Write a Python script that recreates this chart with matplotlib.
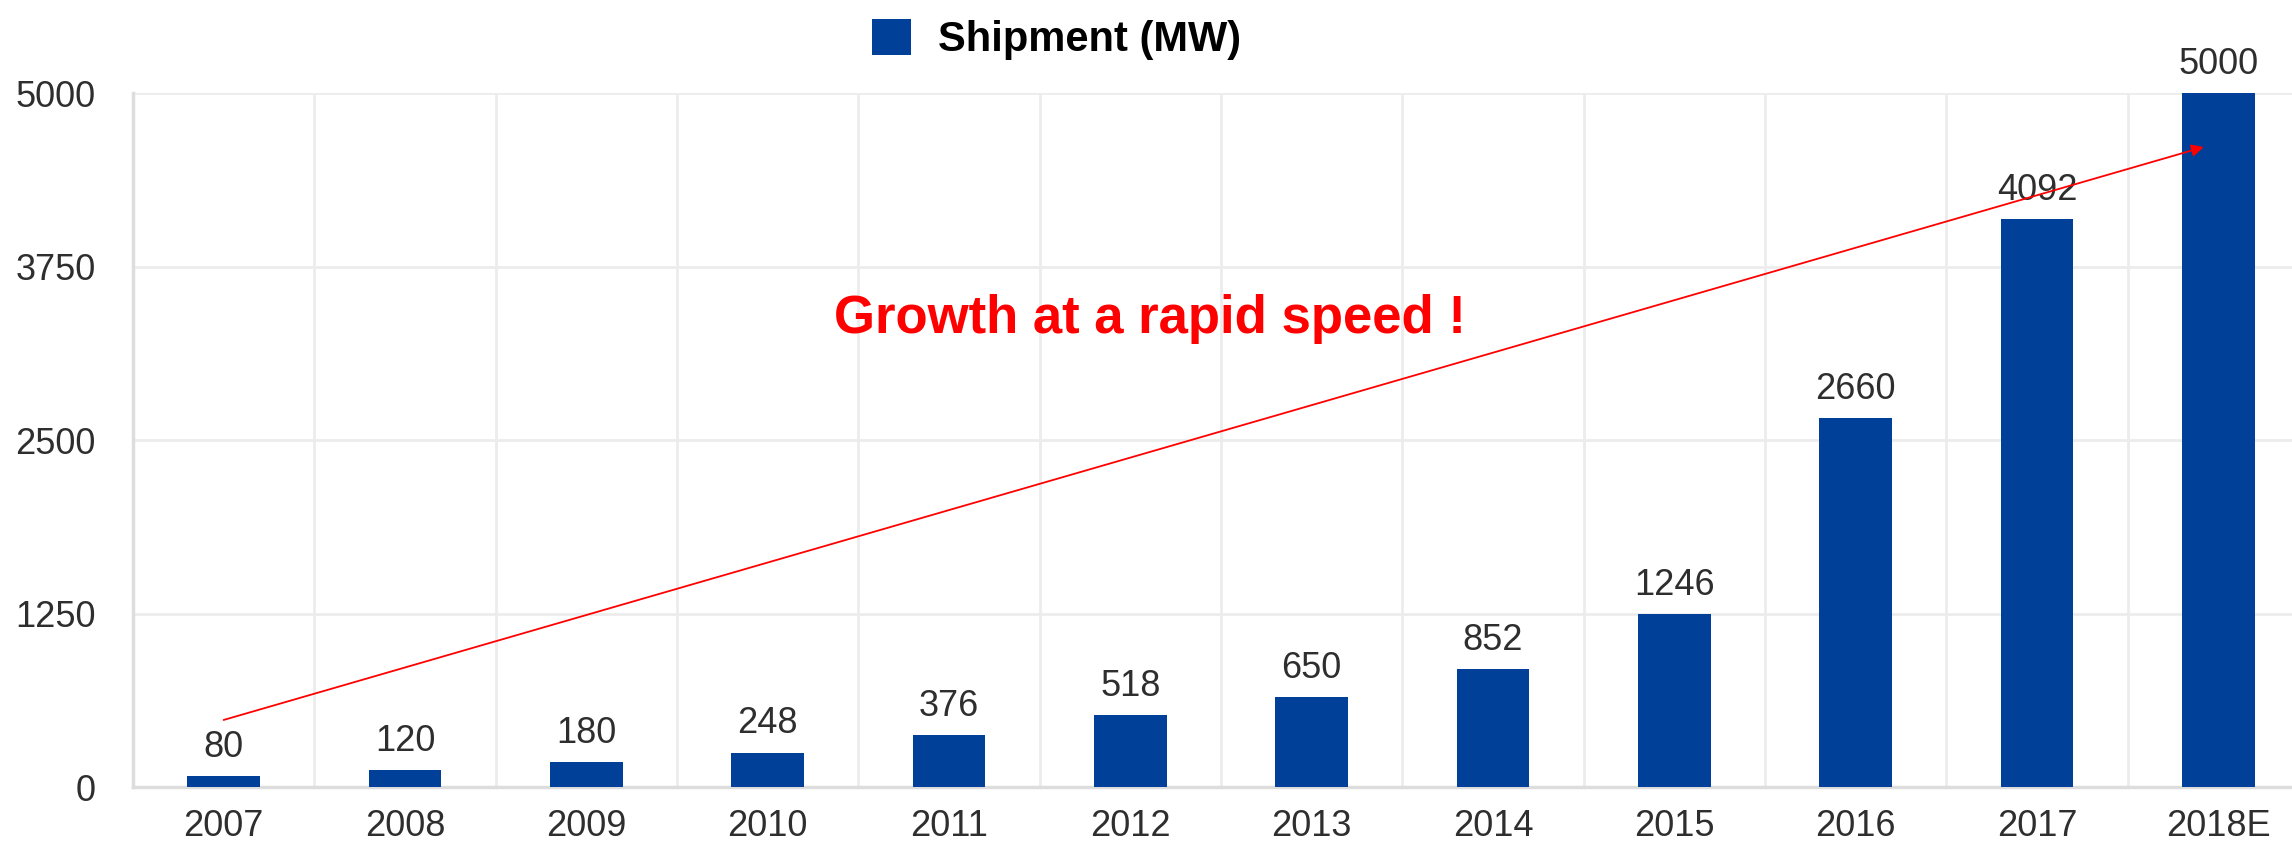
import numpy as np
import matplotlib
matplotlib.use('Agg')
import matplotlib.pyplot as plt

years     = ['2007', '2008', '2009', '2010', '2011', '2012',
             '2013', '2014', '2015', '2016', '2017', '2018E']
shipments = [80, 120, 180, 248, 376, 518, 650, 852, 1246, 2660, 4092, 5000]
y_ticks   = [0, 1250, 2500, 3750, 5000]

BAR_COLOR  = '#004098'
GRID_COLOR = '#ececec'
TEXT_COLOR = '#2e2e2e'

plt.rcParams['font.family'] = ['Liberation Sans', 'DejaVu Sans']

fig = plt.figure(figsize=(22.92, 8.41), dpi=100)
ax = fig.add_axes([0.0580, 0.0642, 0.9494, 0.8252])

x = np.arange(len(years))
bars = ax.bar(x, shipments, width=0.4, color=BAR_COLOR, zorder=3,
              label='Shipment (MW)')

for xi, v in zip(x, shipments):
    ax.annotate(f'{v}', (xi, v), xytext=(0, 8), textcoords='offset points',
                ha='center', va='bottom', fontsize=26, color=TEXT_COLOR,
                zorder=4)

ax.set_xlim(-0.5, len(years) - 0.5)
ax.set_ylim(0, 5000)
ax.set_xticks(x)
ax.set_xticklabels(years)
ax.set_xticks(x[:-1] + 0.5, minor=True)
ax.set_yticks(y_ticks)
ax.tick_params(axis='both', which='both', length=0, labelsize=26,
               colors=TEXT_COLOR)
ax.tick_params(axis='x', pad=16)
ax.tick_params(axis='y', pad=27)

ax.grid(axis='y', which='major', color=GRID_COLOR, lw=2, zorder=0)
ax.grid(axis='x', which='minor', color=GRID_COLOR, lw=2, zorder=0)
ax.grid(axis='x', which='major', visible=False)

for side in ['top', 'right']:
    ax.spines[side].set_visible(False)
for side in ['left', 'bottom']:
    ax.spines[side].set_color('#dddddd')
    ax.spines[side].set_linewidth(2.5)

# trend arrow
ax.annotate('', xy=(10.92, 4611), xytext=(0.0, 483),
            arrowprops=dict(arrowstyle='-|>', color='red', lw=1.3,
                            mutation_scale=18, shrinkA=0, shrinkB=0),
            zorder=5)
ax.text(5.11, 3271, 'Growth at a rapid speed !', color='red',
        fontsize=38, fontweight='bold', ha='center', va='baseline', zorder=5)

fig.legend(handles=[bars], labels=['Shipment (MW)'], loc='center',
           bbox_to_anchor=(0.461, 0.953), frameon=False, handlelength=0.95,
           handleheight=0.95, handletextpad=0.65, borderpad=0,
           prop={'weight': 'bold', 'size': 30})

fig.savefig('out.png', dpi=100)
